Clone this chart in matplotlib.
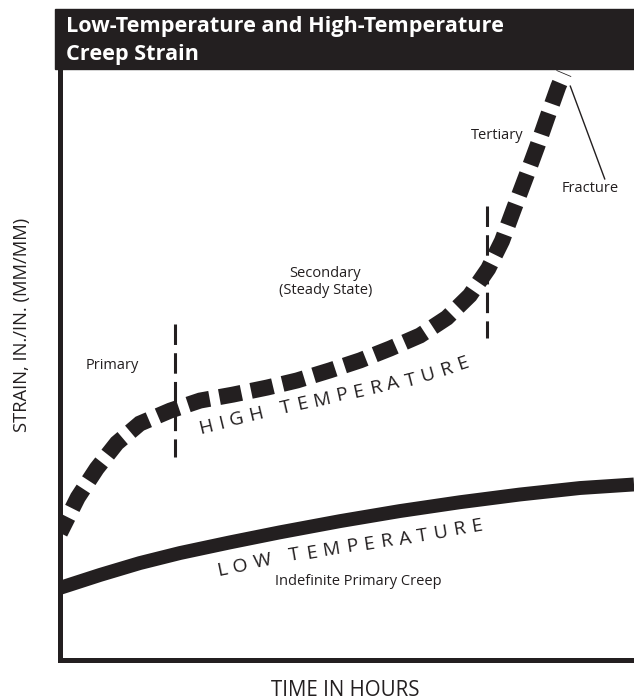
import numpy as np
import matplotlib
matplotlib.use('Agg')
import matplotlib.pyplot as plt
from matplotlib.patches import Rectangle
from matplotlib.font_manager import FontProperties

INK = '#231f20'
FONT = 'Open Sans'

# ---- data (time and strain in % of axis range) ----
high_time = [0.0, 3.1, 6.4, 9.9, 13.9, 19.2, 24.4, 30.1, 36.1, 41.3, 47.0, 52.3,
             57.5, 62.7, 67.4, 71.4, 74.6, 77.0, 79.1, 81.2, 83.1, 85.0, 86.8, 87.8]
high_strain = [21.5, 27.5, 32.4, 36.7, 40.0, 42.2, 43.9, 44.9, 46.1, 47.3, 49.0, 50.7,
               52.7, 54.9, 57.9, 61.7, 66.2, 70.9, 76.4, 81.8, 86.8, 92.1, 97.0, 99.3]

low_time = [0.0, 7.0, 13.9, 20.9, 29.6, 38.3, 48.8, 59.2, 69.7, 80.1, 90.6, 100.0]
low_strain = [12.2, 14.4, 16.4, 18.1, 19.9, 21.6, 23.5, 25.2, 26.7, 28.0, 29.1, 29.7]

stage_bounds_time = [20.0, 74.4]
stage_bounds_low = [34.3, 54.4]
stage_bounds_high = [56.9, 76.9]

title_lines = ['Low-Temperature and High-Temperature', 'Creep Strain']
x_label = 'TIME IN HOURS'
y_label = 'STRAIN, IN./IN. (MM/MM)'

fig = plt.figure(figsize=(6.34, 7.0), dpi=100)
ax = fig.add_axes([60 / 634, 40 / 700, 574 / 634, 591 / 700])
ax.set_xlim(0, 100)
ax.set_ylim(0, 100)
ax.set_xticks([])
ax.set_yticks([])
for side in ['top', 'right']:
    ax.spines[side].set_visible(False)
for side in ['left', 'bottom']:
    ax.spines[side].set_linewidth(3.6)
    ax.spines[side].set_color(INK)
    ax.spines[side].set_capstyle('projecting')

# header bar
fig.add_artist(Rectangle((55 / 634, 1 - 69 / 700), 579 / 634, 60 / 700,
                         transform=fig.transFigure, color=INK, zorder=5))
fig.text(66 / 634, 1 - 32 / 700, title_lines[0], color='white', fontsize=15.6,
         fontweight='bold', family=FONT, va='baseline', zorder=6)
fig.text(66 / 634, 1 - 60 / 700, title_lines[1], color='white', fontsize=15.6,
         fontweight='bold', family=FONT, va='baseline', zorder=6)

# curves
ax.plot(low_time, low_strain, color=INK, lw=10, solid_capstyle='butt', clip_on=True)
hl, = ax.plot(high_time, high_strain, color=INK, lw=11.5, linestyle=(0.3, (1.4, 0.62)),
              dash_capstyle='butt', dash_joinstyle='miter')
hl.set_clip_path(Rectangle((0, 0), 1.0, 1.2, transform=ax.transAxes))

for t, lo, hi in zip(stage_bounds_time, stage_bounds_low, stage_bounds_high):
    ax.plot([t, t], [hi, lo], color=INK, lw=2.2, linestyle=(0, (6.7, 2.7)),
            dash_capstyle='butt')

# fracture leader
ax.plot([88.9, 94.9], [97.1, 81.4], color=INK, lw=1.0)

fs_small = 10.5
ax.text(9.2, 49.8, 'Primary', ha='center', va='center', fontsize=fs_small, family=FONT, color=INK)
ax.text(46.2, 64.0, 'Secondary\n(Steady State)', ha='center', va='center', fontsize=fs_small,
        family=FONT, color=INK, linespacing=1.2)
ax.text(76.1, 88.7, 'Tertiary', ha='center', va='center', fontsize=fs_small, family=FONT, color=INK)
ax.text(92.3, 79.7, 'Fracture', ha='center', va='center', fontsize=fs_small, family=FONT, color=INK)
ax.text(51.9, 13.2, 'Indefinite Primary Creep', ha='center', va='center', fontsize=fs_small,
        family=FONT, color=INK)

fig.text(22 / 634, 1 - 325 / 700, y_label, rotation=90, ha='center', va='center',
         fontsize=13.2, family=FONT, color=INK)
fig.text(345 / 634, 1 - 690 / 700, x_label, ha='center', va='center',
         fontsize=14.8, family=FONT, color=INK)


def text_on_path(ax, text, bx, by, size, tracking):
    fig = ax.figure
    renderer = fig.canvas.get_renderer()
    pts = ax.transData.transform(np.column_stack([bx, by]))
    seg = np.diff(pts, axis=0)
    d = np.hypot(seg[:, 0], seg[:, 1])
    s = np.concatenate([[0], np.cumsum(d)])
    seg_ang = np.degrees(np.arctan2(seg[:, 1], seg[:, 0]))
    mids = (s[:-1] + s[1:]) / 2
    fp = FontProperties(family=FONT, size=size)
    inv = ax.transData.inverted()
    pos = 0.0
    for ch in text:
        if ch == ' ':
            w = 0.28 * size * fig.dpi / 72
        else:
            w, _, _ = renderer.get_text_width_height_descent(ch, fp, ismath=False)
        c = pos + w / 2
        x = np.interp(c, s, pts[:, 0])
        y = np.interp(c, s, pts[:, 1])
        ang = np.interp(c, mids, seg_ang)
        xd, yd = inv.transform((x, y))
        if ch != ' ':
            ax.text(xd, yd, ch, rotation=ang, rotation_mode='anchor', ha='center',
                    va='baseline', fontsize=size, family=FONT, color=INK)
        pos += w + tracking


text_on_path(ax, 'HIGH TEMPERATURE', [24.4, 38.3, 52.3, 62.7, 75.0],
             [38.3, 41.6, 44.6, 46.8, 50.8], 14, 6.0)
text_on_path(ax, 'LOW TEMPERATURE', [27.5, 38.3, 49.7, 61.0, 76.0],
             [14.2, 16.4, 18.2, 19.8, 22.3], 14, 6.2)

fig.savefig('out.png', dpi=100)
